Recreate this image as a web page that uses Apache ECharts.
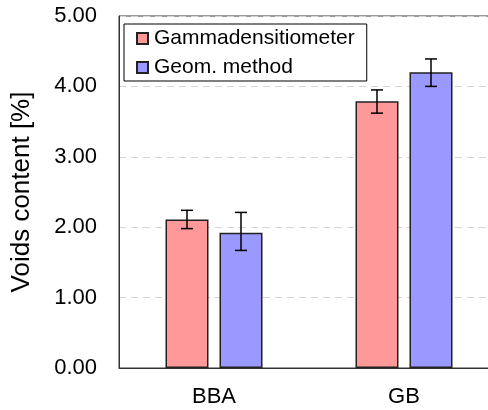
<!DOCTYPE html>
<html>
<head>
<meta charset="utf-8">
<script src="https://cdn.jsdelivr.net/npm/echarts@6/dist/echarts.min.js"></script>
<style>
  html, body { margin: 0; padding: 0; background: #fff; }
  #chart-container { width: 488px; height: 410px; }
</style>
</head>
<body>
<div id="chart-container"></div>
<script>
var categories = ['BBA', 'GB'];
var seriesNames = ['Gammadensitiometer', 'Geom. method'];
var gammaValues = [2.11, 3.79];
var gammaErrLow = [1.98, 3.62];
var gammaErrHigh = [2.24, 3.95];
var geomValues = [1.92, 4.20];
var geomErrLow = [1.67, 4.00];
var geomErrHigh = [2.21, 4.39];
var yTicks = [0, 1, 2, 3, 4, 5];

var chartDom = document.getElementById('chart-container');
var myChart = echarts.init(chartDom);
var option;

var FONT = "'Liberation Sans', Arial, sans-serif";
var BAR_W = 43;
var BAR_GAP = 11;
var CAP = 6;

// error bars, shifted left/right to sit on each bar
function errorSeries(low, high, shift) {
	var data = low.map(function (v, i) { return [i, v, high[i]]; });
	return {
		type: 'custom',
		z: 10,
		silent: true,
		data: data,
		encode: { x: 0, y: [1, 2] },
		renderItem: function (params, api) {
			var lo = api.coord([api.value(0), api.value(1)]);
			var hi = api.coord([api.value(0), api.value(2)]);
			var x = lo[0] + shift;
			var st = { stroke: '#000', lineWidth: 1.5 };
			return {
				type: 'group',
				children: [
					{ type: 'line', shape: { x1: x, y1: lo[1], x2: x, y2: hi[1] }, style: st },
					{ type: 'line', shape: { x1: x - CAP, y1: lo[1], x2: x + CAP, y2: lo[1] }, style: st },
					{ type: 'line', shape: { x1: x - CAP, y1: hi[1], x2: x + CAP, y2: hi[1] }, style: st }
				]
			};
		}
	};
}

var shift = (BAR_W + BAR_GAP) / 2;

option = {
	animation: false,
	backgroundColor: '#fff',
	textStyle: { fontFamily: FONT },
	grid: {
		left: 119,
		width: 380,
		top: 16,
		bottom: 42,
		outerBoundsMode: 'none',
		show: true,
		borderColor: '#333',
		borderWidth: 1
	},
	legend: {
		data: seriesNames,
		orient: 'vertical',
		left: 124,
		top: 24,
		padding: [4, 12, 3, 12],
		itemGap: 8,
		itemWidth: 11,
		itemHeight: 11,
		icon: 'rect',
		borderColor: '#000',
		borderWidth: 1,
		backgroundColor: '#fff',
		textStyle: { fontSize: 21, color: '#000', fontFamily: FONT, padding: [0, 0, 0, 1] }
	},
	xAxis: {
		type: 'category',
		data: categories,
		axisTick: { show: false },
		axisLine: { lineStyle: { color: '#333', width: 1 } },
		axisLabel: { fontSize: 22, color: '#000', margin: 18, fontFamily: FONT }
	},
	yAxis: {
		type: 'value',
		min: yTicks[0],
		max: yTicks[yTicks.length - 1],
		interval: 1,
		name: 'Voids content [%]',
		nameLocation: 'middle',
		nameRotate: 90,
		nameGap: 84,
		nameTextStyle: { fontSize: 26, color: '#000', fontFamily: FONT },
		axisLine: { show: true, lineStyle: { color: '#333', width: 1 } },
		axisTick: { show: false },
		axisLabel: {
			fontSize: 22, color: '#000', margin: 22, fontFamily: FONT,
			formatter: function (v) { return v.toFixed(2); }
		},
		splitLine: { lineStyle: { color: '#d4d4d4', type: [7, 5], width: 1 } }
	},
	series: [
		{
			name: seriesNames[0],
			type: 'bar',
			data: gammaValues,
			barWidth: BAR_W,
			barGap: (BAR_GAP / BAR_W * 100) + '%',
			itemStyle: { color: '#ff9999', borderColor: '#222', borderWidth: 1.5 }
		},
		{
			name: seriesNames[1],
			type: 'bar',
			data: geomValues,
			barWidth: BAR_W,
			itemStyle: { color: '#9999ff', borderColor: '#222', borderWidth: 1.5 }
		},
		errorSeries(gammaErrLow, gammaErrHigh, -shift),
		errorSeries(geomErrLow, geomErrHigh, shift)
	]
};

myChart.setOption(option);

window.addEventListener('resize', function() {
	myChart.resize();
});
</script>
</body>
</html>
